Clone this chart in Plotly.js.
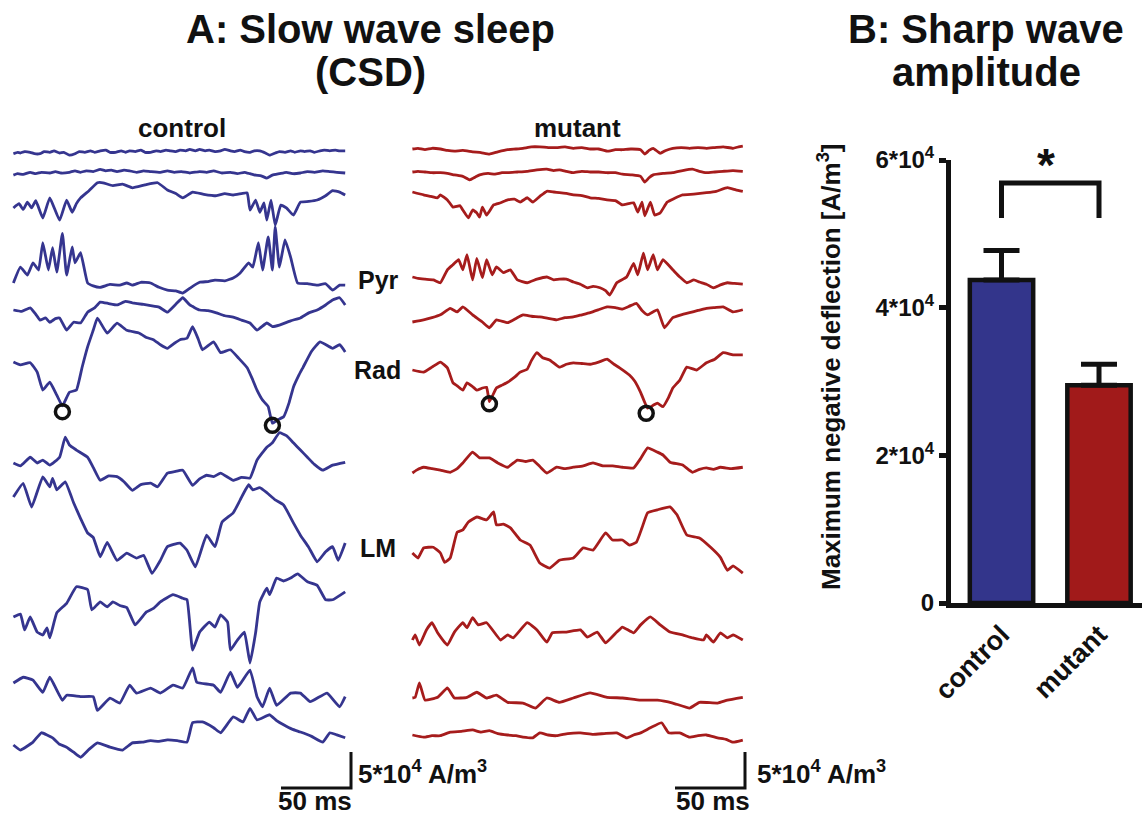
<!DOCTYPE html>
<html>
<head>
<meta charset="utf-8">
<script src="https://cdn.plot.ly/plotly-3.0.1.min.js"></script>
<style>
  html, body { margin: 0; padding: 0; background: #ffffff; }
  #chart { width: 1142px; height: 818px; }
</style>
</head>
<body>
<div id="chart"></div>
<script>
// ---------------------------------------------------------------
// CSD sweeps: [time (ms), current source density (10^4 A/m^3)]
// ---------------------------------------------------------------
const c01 = [[1,-0.1],[4,0.1],[6,0],[9,0.2],[13,0.1],[16,-0.1],[20,-0.1],[23,0.2],[27,0.1],[30,0.3],[34,0],[37,0.1],[41,-0.3],[45,-0.1],[48,0.2],[52,0.1],[56,0.3],[59,0.1],[63,0.3],[67,0.4],[70,0.1],[74,0.1],[78,0.3],[81,0.1],[84,0.3],[88,0.2],[92,0.4],[95,0.1],[99,0.1],[103,0.3],[106,0.2],[110,0.4],[113,0.3],[117,0.2],[120,0.4],[124,0.3],[127,0.5],[131,0.3],[134,0.5],[138,0.3],[141,0.4],[145,0.2],[149,0.3],[152,0.5],[156,0.3],[159,0.2],[163,0.4],[166,0.2],[170,0.1],[173,0.3],[177,0.3],[181,0],[184,-0.3],[188,0],[191,0.2],[195,0.1],[199,0.3],[202,0.1],[206,0.3],[209,0.2],[213,0.3],[216,0.1],[220,0.3],[223,0.4],[227,0.3],[231,0.4],[234,0.3],[238,0.3]];
const c02 = [[1,-0.3],[4,-0.1],[8,-0.2],[13,0.1],[17,-0.1],[21,0.1],[27,0],[31,0.2],[35,0],[41,0.1],[45,0.3],[49,0.1],[53,0.3],[58,0.2],[63,0.5],[67,0.3],[71,0.4],[75,0.2],[80,0.4],[84,0.3],[89,0.1],[94,0.3],[99,0.2],[106,0.1],[111,0.3],[116,0.1],[121,0.2],[127,0],[134,0.2],[139,0.1],[144,0.3],[150,0],[156,0.1],[161,-0.1],[166,0.1],[170,-0.1],[174,-0.3],[178,-0.4],[182,-0.7],[186,-0.3],[191,-0.1],[196,0.1],[201,-0.1],[206,0],[211,0.2],[216,0.1],[222,0.3],[227,0.2],[232,0.1],[238,0]];
const c03 = [[1,-1.8],[5,-1.2],[8,-2.0],[11,-1.0],[14,-1.8],[17,-0.8],[22,-3.2],[27,-0.4],[34,-3.5],[39,-0.7],[43,-2.4],[46,-1.2],[49,-0.4],[55,0.6],[61,1.7],[65,1.7],[72,1.3],[79,1.5],[86,1.0],[95,1.4],[104,1.7],[111,0.7],[117,0.2],[122,-0.4],[129,0.4],[137,0.1],[146,-0.1],[152,0.2],[158,0],[164,0.2],[168,0.3],[170,-2.1],[174,-0.7],[177,-2.4],[180,-1.1],[182,-3.5],[185,-0.7],[188,-4.2],[192,-1.4],[196,-1.8],[201,-2.8],[206,-1.0],[212,-0.9],[218,-0.7],[224,-0.1],[229,0.6],[234,0.4],[238,0]];
const c04 = [[1,0],[6,2.2],[11,1.1],[15,2.8],[19,1.8],[22,5.6],[26,1.8],[29,4.9],[32,1.5],[36,6.9],[39,1.1],[43,5.0],[45,2.8],[49,4.2],[54,0],[58,-0.4],[63,-0.6],[70,-0.2],[77,-0.3],[82,0],[86,-0.3],[92,0.1],[99,0],[105,-0.6],[111,-1.0],[117,-1.1],[122,-1.4],[128,-0.6],[134,0.1],[140,0.2],[145,0.4],[152,0.3],[158,0.7],[163,1.4],[169,2.8],[172,2.2],[176,5.6],[179,1.8],[183,6.4],[186,1.8],[188,7.8],[191,2.2],[195,6.0],[199,3.6],[204,0],[211,-0.1],[218,-0.3],[224,-0.1],[229,-1.0],[234,-0.3],[238,-0.3]];
const c05 = [[1,0],[7,-0.2],[13,0.3],[17,-0.6],[20,-1.4],[24,-1.1],[27,-1.7],[31,-1.2],[34,-1.1],[39,-2.8],[44,-1.7],[49,-1.8],[54,-0.3],[59,0.3],[63,1.1],[69,0.9],[75,0.7],[81,1.2],[86,1.0],[93,0.8],[99,0.6],[105,0.4],[111,-0.3],[117,0.8],[122,1.7],[127,0.7],[134,0],[140,-0.1],[146,-0.4],[152,-0.8],[158,-1.0],[164,-1.4],[170,-1.8],[175,-2.8],[182,-1.8],[186,-2.3],[191,-2.1],[199,-1.5],[206,-1.1],[212,-0.4],[218,0],[224,0.7],[229,1.4],[234,1.7],[238,0.7]];
const c06 = [[1,0],[6,-0.4],[13,-0.1],[18,-1.4],[22,-3.9],[27,-2.8],[32,-4.6],[36,-6.1],[41,-4.2],[46,-3.9],[50,-0.8],[54,2.1],[58,4.4],[61,6.1],[68,4.0],[75,5.4],[82,4.4],[91,4.0],[96,3.4],[101,3.1],[106,2.4],[111,1.9],[116,2.6],[120,3.1],[125,3.3],[129,4.9],[133,3.2],[136,1.7],[144,2.8],[149,1.3],[156,1.7],[162,0.5],[168,-0.8],[172,-2.5],[175,-3.9],[179,-5.3],[183,-6.2],[186,-8.5],[190,-8.0],[194,-7.6],[198,-5.6],[201,-3.5],[205,-1.8],[208,-0.7],[214,1.5],[220,2.8],[229,1.9],[234,2.4],[238,1.4]];
const c07 = [[1,0],[6,-0.4],[13,0.8],[18,0],[22,0.4],[27,-0.3],[34,0.8],[38,3.6],[41,2.5],[46,1.8],[54,0.8],[58,-0.6],[63,-2.4],[69,-1.8],[75,-1.9],[80,-2.6],[86,-3.8],[92,-3.0],[99,-2.8],[104,-3.3],[111,-1.4],[116,-1.2],[122,-1.0],[129,-3.1],[134,-2.2],[139,-1.7],[144,-1.9],[149,-1.4],[158,-2.4],[164,-2.0],[170,-2.1],[175,0.4],[182,2.2],[186,2.8],[191,4.2],[196,3.8],[201,2.8],[206,1.8],[211,0.8],[216,-0.2],[222,-1.0],[229,-0.3],[238,0.1]];
const c08 = [[1,0],[8,1.9],[14,-1.4],[22,2.8],[27,1.4],[29,2.6],[32,1.0],[38,2.1],[44,-0.8],[49,-3.0],[54,-5.0],[58,-5.6],[63,-8.3],[68,-6.3],[75,-8.8],[82,-7.8],[89,-8.5],[94,-8.1],[100,-10.6],[106,-8.8],[111,-6.9],[120,-6.4],[125,-7.4],[131,-9.7],[139,-5.3],[145,-6.9],[150,-3.5],[158,-2.2],[163,-0.4],[169,1.7],[172,1.0],[177,1.3],[182,0.6],[188,-0.4],[194,-1.1],[201,-3.6],[206,-5.3],[212,-7.0],[218,-9.0],[224,-7.6],[229,-6.9],[233,-8.8],[238,-6.4]];
const c09 = [[1,0],[6,0.4],[9,-1.8],[13,0],[18,-2.1],[22,-2.5],[25,-1.5],[27,-2.9],[32,0.6],[39,1.9],[46,4.2],[54,3.8],[57,1.0],[63,2.1],[68,1.4],[72,2.1],[77,1.6],[82,1.3],[88,-1.1],[96,0.7],[101,1.2],[106,2.1],[115,3.1],[122,2.6],[125,2.4],[129,-4.6],[134,-2.1],[141,-0.7],[145,-1.4],[149,0.3],[154,-0.7],[156,-4.6],[161,-3.2],[166,-2.1],[170,-6.4],[174,-2.2],[177,2.1],[182,4.0],[184,3.1],[189,5.4],[194,5.0],[199,5.4],[204,6.0],[211,4.9],[218,4.4],[224,2.4],[229,2.4],[238,3.5]];
const c10 = [[1,0],[8,0.8],[15,0.4],[22,-1.3],[27,0.8],[36,-2.4],[39,-1.7],[49,-1.9],[58,-1.9],[61,-3.8],[70,-2.1],[77,-2.8],[84,-0.3],[89,-1.4],[99,-0.7],[106,-1.4],[115,-0.3],[122,-0.7],[129,2.1],[132,0.1],[144,-0.3],[149,-1.3],[156,1.5],[161,-0.6],[170,1.8],[175,-1.9],[179,-3.3],[184,-0.7],[189,-3.1],[199,-1.4],[206,-1.4],[213,-2.6],[225,-1.4],[234,-3.3],[238,-1.9]];
const c11 = [[1,0],[6,-0.7],[15,0.4],[21,1.7],[29,1.0],[34,0.1],[39,-0.3],[44,-1.0],[49,-1.7],[55,-0.6],[61,0.3],[70,-0.3],[79,-0.7],[86,0.3],[93,0.4],[99,0.6],[105,0.5],[111,0.7],[118,0.6],[125,0.4],[129,3.1],[136,3.2],[144,2.4],[149,1.7],[158,3.9],[165,3.2],[170,5.1],[175,3.5],[184,4.2],[189,3.4],[194,2.8],[200,2.2],[206,1.8],[214,1.2],[222,0.4],[227,1.7],[232,1.4],[238,1.0]];

const m01 = [[1,0],[5,0.1],[10,-0.1],[15,0.1],[21,0],[26,-0.2],[31,-0.3],[37,-0.2],[44,-0.4],[50,-0.5],[56,-0.7],[62,-0.4],[69,-0.1],[75,0],[80,0.1],[86,0.3],[92,0.3],[98,0.2],[104,0.2],[110,0.3],[116,0.1],[122,0.2],[128,0],[134,0],[140,-0.3],[146,-0.1],[151,-0.1],[157,0],[164,-0.1],[167,-0.7],[170,-0.2],[173,0.1],[178,-0.6],[182,-0.2],[187,0.1],[193,0.2],[199,0.1],[205,0.2],[211,0.1],[217,0.2],[223,0.3],[230,0.1],[234,0.3],[237,0.4]];
const m02 = [[1,0],[5,0.1],[10,0],[15,-0.1],[21,-0.1],[26,-0.2],[31,-0.4],[37,-0.6],[42,-1.1],[46,-0.7],[49,-0.4],[55,-0.2],[60,-0.3],[65,-0.1],[69,-0.1],[76,0],[83,0.1],[90,0.3],[97,0.4],[102,0.2],[106,0.3],[111,0.1],[116,-0.1],[122,0.1],[128,0],[134,0],[140,-0.1],[146,-0.1],[151,-0.3],[158,-0.4],[164,-0.6],[167,-1.4],[170,-0.8],[173,-0.4],[180,-0.2],[187,-0.1],[194,0.2],[201,0.4],[206,0.1],[211,-0.1],[217,0],[223,0.1],[230,0.2],[237,0.1]];
const m03 = [[1,0],[9,-0.4],[14,-0.6],[19,-0.8],[21,-0.4],[26,-1.1],[30,-2.1],[35,-1.9],[37,-2.5],[41,-3.6],[44,-2.5],[47,-2.9],[49,-3.5],[51,-2.1],[54,-3.2],[59,-1.8],[64,-1.5],[69,-1.1],[74,-1.0],[78,-1.4],[83,-0.8],[87,-1.4],[92,-0.6],[97,0.1],[102,0],[106,-0.1],[111,-0.2],[116,-0.4],[122,-0.5],[128,-0.8],[134,-0.9],[140,-1.1],[146,-1.2],[151,-1.8],[159,-1.5],[162,-2.8],[165,-1.4],[167,-3.3],[171,-1.4],[174,-3.2],[178,-2.9],[183,-1.4],[188,-0.9],[194,-0.4],[202,-0.3],[211,-0.1],[218,0.1],[226,0.6],[232,0.3],[237,0.1]];
const m04 = [[1,0],[5,-0.2],[10,-0.3],[16,-0.4],[21,-0.8],[26,1.0],[30,1.7],[34,2.4],[37,1.0],[40,3.1],[44,-0.4],[47,2.6],[51,-0.1],[54,2.4],[58,0.3],[61,1.4],[66,0.6],[71,1.0],[76,-0.4],[83,-0.8],[90,-0.3],[97,0],[102,-0.4],[106,-0.3],[111,-0.3],[116,-0.7],[121,-1.0],[126,-1.5],[130,-1.3],[135,-1.5],[139,-1.9],[142,-2.5],[147,-0.8],[154,0],[159,1.9],[162,0.3],[166,3.3],[169,1.0],[173,3.1],[176,1.0],[180,2.4],[187,1.0],[192,0],[197,-0.8],[202,-0.4],[206,-0.7],[211,-1.0],[216,-1.5],[221,-1.1],[226,-0.8],[231,-0.9],[237,-1.0]];
const m05 = [[1,0],[9,0.3],[15,0.6],[21,1.0],[28,1.9],[33,1.4],[37,2.1],[44,1.0],[51,0],[56,-0.8],[61,0.3],[69,-0.1],[75,0.5],[80,1.0],[86,0.8],[92,0.7],[98,0.5],[104,0.3],[110,0.6],[116,0.7],[122,1.0],[128,1.3],[134,1.7],[140,2.1],[146,2.0],[151,1.8],[156,2.2],[161,2.6],[165,1.6],[169,1.0],[176,1.7],[181,-0.8],[187,0.6],[193,1.0],[199,1.3],[205,1.6],[211,1.9],[217,2.0],[223,2.1],[230,1.4],[237,1.7]];
const m06 = [[1,0],[9,-0.3],[15,0.4],[21,1.1],[26,0.3],[30,-1.8],[33,-2.2],[37,-2.8],[40,-1.8],[44,-2.3],[47,-2.8],[51,-2.5],[54,-2.4],[56,-4.4],[61,-2.5],[65,-2.1],[69,-1.7],[74,-1.0],[78,-0.3],[83,0.1],[86,1.3],[90,2.4],[94,1.7],[99,1.4],[106,0.4],[111,0.8],[116,1.0],[122,0.9],[128,0.8],[134,1.1],[140,1.5],[145,0.8],[149,0.3],[156,-0.7],[160,-1.6],[164,-3.1],[169,-5.3],[173,-4.9],[176,-4.6],[180,-5.1],[184,-3.8],[187,-2.5],[192,-1.4],[197,0.4],[204,0],[211,1.0],[217,1.5],[223,2.4],[230,2.1],[237,2.1]];
const m07 = [[1,0],[4,0.4],[9,0.8],[15,0.6],[21,0.4],[28,0.1],[33,0.6],[37,1.4],[44,2.9],[49,2.1],[56,2.1],[62,1.4],[69,0.8],[76,1.8],[82,1.6],[87,1.8],[92,0.9],[97,0],[104,0.8],[110,0.6],[116,0.8],[123,1.0],[130,1.4],[137,1.0],[144,1.0],[151,0.8],[159,0.7],[164,2.0],[169,3.5],[176,2.9],[180,2.5],[185,1.5],[194,1.1],[201,0.1],[206,0.5],[211,0.7],[216,0.5],[221,0.8],[229,0.6],[237,0.8]];
const m08 = [[1,0],[5,-0.7],[9,0.7],[16,0.8],[21,0],[24,-1.3],[28,-0.7],[33,2.9],[37,3.2],[41,4.3],[47,5.0],[54,4.6],[59,5.7],[61,3.9],[66,4.0],[71,3.5],[78,1.8],[85,1.1],[92,-1.4],[99,-2.1],[106,-1.0],[116,-0.7],[123,0.7],[130,0.4],[139,2.8],[144,1.8],[151,1.8],[156,1.1],[161,1.5],[165,3.5],[169,5.6],[176,6.0],[185,6.4],[190,5.3],[197,2.5],[206,2.1],[214,0.8],[221,-0.6],[226,-2.4],[230,-1.8],[237,-2.8]];
const m09 = [[1,0],[3,0.7],[6,-0.7],[11,1.4],[15,2.4],[19,1.0],[26,-0.7],[31,1.1],[37,2.4],[40,1.7],[44,3.1],[48,2.1],[54,2.4],[64,0],[69,0.7],[73,0.3],[83,2.4],[90,1.4],[97,-0.3],[101,1.0],[111,1.1],[121,1.4],[126,0.4],[133,1.1],[139,-0.4],[147,1.1],[151,1.8],[159,1.0],[164,2.1],[171,3.2],[178,2.1],[185,1.1],[194,0.7],[201,0.3],[209,0],[211,0.7],[216,-0.3],[221,1.0],[226,0.3],[230,0.7],[237,0]];
const m10 = [[1,0],[3,0.1],[6,2.1],[10,-0.3],[19,0.1],[26,1.4],[31,0],[40,0.1],[47,0.8],[54,0],[61,0.4],[69,-0.6],[80,-0.7],[89,-1.4],[97,0],[106,-0.6],[116,0],[128,0.7],[140,0.1],[151,0],[164,-0.3],[176,-0.3],[187,-0.7],[199,-1.4],[206,-0.6],[219,-0.7],[226,-0.3],[237,0.1]];
const m11 = [[1,0],[9,-0.3],[15,-0.1],[21,-0.1],[28,0.4],[36,0.5],[44,0.7],[50,0.4],[56,0.6],[62,0.2],[69,0],[75,-0.1],[80,-0.3],[87,-0.4],[92,0.3],[98,0],[104,-0.1],[112,0.2],[121,0.3],[130,0.1],[138,0.2],[147,0.3],[154,-0.4],[159,0],[164,0.3],[171,1.0],[179,1.7],[184,0.3],[192,0.3],[199,-0.3],[205,-0.1],[211,0],[219,-0.4],[225,-0.6],[230,-1.0],[237,-0.7]];

const controlSweeps = [c01, c02, c03, c04, c05, c06, c07, c08, c09, c10, c11];
const mutantSweeps  = [m01, m02, m03, m04, m05, m06, m07, m08, m09, m10, m11];

// Sharp-wave troughs on the radiatum sweep: [time (ms), CSD (10^4 A/m^3)]
const controlTroughs = [[36,-6.9],[186,-8.8]];
const mutantTroughs  = [[56,-4.7],[168,-6.0]];
const RAD_ROW = 5;            // index of the radiatum sweep

// Layer labels placed next to their sweeps
const layerNames = ['Pyr', 'Rad', 'LM'];

// Sharp wave amplitude summary
const groups   = ['control', 'mutant'];
const ampMean  = [43750, 29500];
const ampSem   = [4000, 2850];
const yTickVals = [0, 20000, 40000, 60000];
const yTickText = ['0', '2*10<sup>4</sup>', '4*10<sup>4</sup>', '6*10<sup>4</sup>'];

// Scale bar values
const SCALE_MS  = 50;
const SCALE_CSD = 5;          // 5*10^4 A/m^3

// ---------------------------------------------------------------
// Layout helpers
// ---------------------------------------------------------------
const W = 1142, H = 818;
const PX_PER_MS = 1.4, PX_PER_UNIT = 7.2;
const FONT = 'Liberation Sans, Arial, Helvetica, sans-serif';
const INK = '#111111';
const BLUE_LINE = '#35358f', RED_LINE = '#a61c1c';
const BLUE_BAR = '#33358b', RED_BAR = '#a11a1a';

const fx = x => x / W;
const fy = y => 1 - y / H;
const rowOf = yPix => -yPix / PX_PER_UNIT;

// vertical position of each sweep's baseline
const controlRows = [153, 173, 195, 283, 310, 362, 463, 497, 617, 683, 745].map(rowOf);
const mutantRows  = [149, 172, 192, 277, 322, 370, 473, 553, 640, 698, 735].map(rowOf);
const layerRowsPix = [280, 370, 548];

function sweepTrace(sweep, row, xa, color) {
  return {
    type: 'scatter', mode: 'lines', xaxis: xa, yaxis: 'y',
    x: sweep.map(p => p[0]), y: sweep.map(p => p[1] + row),
    line: { color: color, width: 2.8, shape: 'spline', smoothing: 0.35 },
    hoverinfo: 'skip', showlegend: false
  };
}
function troughTrace(points, row, xa) {
  return {
    type: 'scatter', mode: 'markers', xaxis: xa, yaxis: 'y',
    x: points.map(p => p[0]), y: points.map(p => p[1] + row),
    marker: { symbol: 'circle-open', size: 14, color: INK, line: { width: 3.5, color: INK } },
    hoverinfo: 'skip', showlegend: false
  };
}

const data = [];
controlSweeps.forEach((s, i) => data.push(sweepTrace(s, controlRows[i], 'x', BLUE_LINE)));
mutantSweeps.forEach((s, i) => data.push(sweepTrace(s, mutantRows[i], 'x2', RED_LINE)));
data.push(troughTrace(controlTroughs, controlRows[RAD_ROW], 'x'));
data.push(troughTrace(mutantTroughs, mutantRows[RAD_ROW], 'x2'));

data.push({
  type: 'bar', xaxis: 'x3', yaxis: 'y3',
  x: groups.map((g, i) => i), y: ampMean, width: 0.65,
  marker: { color: [BLUE_BAR, RED_BAR], line: { color: INK, width: 4.5 } },
  error_y: { type: 'data', symmetric: false, array: ampSem, arrayminus: ampSem.map(() => 0),
             color: INK, thickness: 5, width: 18 },
  hoverinfo: 'skip', showlegend: false
});

function label(text, x, y, size, extra) {
  return Object.assign({
    text: '<b>' + text + '</b>', xref: 'paper', yref: 'paper', x: fx(x), y: fy(y),
    showarrow: false, xanchor: 'center', yanchor: 'middle',
    font: { family: FONT, size: size, color: INK }
  }, extra || {});
}

// scale bar geometry (ms / CSD units on each panel's axes)
function scaleBar(xref, tEnd, yPix) {
  const y0 = rowOf(yPix);
  return {
    type: 'path', xref: xref, yref: 'y',
    path: `M ${tEnd - SCALE_MS},${y0} L ${tEnd},${y0} L ${tEnd},${y0 + SCALE_CSD}`,
    line: { color: INK, width: 3 }
  };
}

const bracketLow = 52150, bracketHigh = 56890;

const annotations = [
  label('A: Slow wave sleep', 370, 29, 40),
  label('(CSD)', 370, 72, 40),
  label('B: Sharp wave', 986, 29, 40),
  label('amplitude', 986, 72, 40),
  label('control', 182, 128, 26),
  label('mutant', 577, 128, 26),
  label(layerNames[0], 378, layerRowsPix[0], 25),
  label(layerNames[1], 377, layerRowsPix[1], 25),
  label(layerNames[2], 378, layerRowsPix[2], 25),
  label('5*10<sup>4</sup> A/m<sup>3</sup>', 356, 772, 26, { xanchor: 'left' }),
  label('5*10<sup>4</sup> A/m<sup>3</sup>', 755, 772, 26, { xanchor: 'left' }),
  label(SCALE_MS + ' ms', 315, 801, 26),
  label(SCALE_MS + ' ms', 713, 801, 26),
  label('*', 1046, 165, 46),
  label('Maximum negative deflection [A/m<sup>3</sup>]', 830, 367, 26, { textangle: -90 })
];

const shapes = [
  scaleBar('x', (351 - 12) / PX_PER_MS, 788),
  scaleBar('x2', (745 - 411) / PX_PER_MS, 788),
  {
    type: 'path', xref: 'x3', yref: 'y3',
    path: `M 0,${bracketLow} L 0,${bracketHigh} L 1,${bracketHigh} L 1,${bracketLow}`,
    line: { color: INK, width: 5 }
  }
];

const layout = {
  width: W, height: H,
  margin: { l: 0, r: 0, t: 0, b: 0, pad: 0 },
  paper_bgcolor: '#ffffff', plot_bgcolor: 'rgba(0,0,0,0)',
  showlegend: false,
  font: { family: FONT, color: INK },
  xaxis:  { domain: [0, fx(400)],   range: [-12 / PX_PER_MS, 388 / PX_PER_MS], visible: false, anchor: 'y' },
  xaxis2: { domain: [fx(400), fx(800)], range: [-11 / PX_PER_MS, 389 / PX_PER_MS], visible: false, anchor: 'y' },
  yaxis:  { domain: [0, 1], range: [-H / PX_PER_UNIT, 0], visible: false, anchor: 'x' },
  xaxis3: {
    domain: [fx(951), 1], range: [-0.518, 1.441], anchor: 'y3',
    showline: true, linewidth: 5, linecolor: INK, showgrid: false, zeroline: false,
    ticks: '', tickvals: groups.map((g, i) => i), ticktext: groups.map(g => '<b>' + g + '</b>'),
    tickangle: -45, tickfont: { family: FONT, size: 27, color: INK }
  },
  yaxis3: {
    domain: [fy(603), fy(160)], range: [0, 60000], anchor: 'x3',
    showline: true, linewidth: 5, linecolor: INK, showgrid: false, zeroline: false,
    ticks: 'outside', ticklen: 7, tickwidth: 5, tickcolor: INK,
    tickvals: yTickVals, ticktext: yTickText.map(t => '<b>' + t + '</b>'),
    tickfont: { family: FONT, size: 24, color: INK }
  },
  annotations: annotations,
  shapes: shapes
};

Plotly.newPlot('chart', data, layout, { staticPlot: true, displayModeBar: false });
</script>
</body>
</html>
